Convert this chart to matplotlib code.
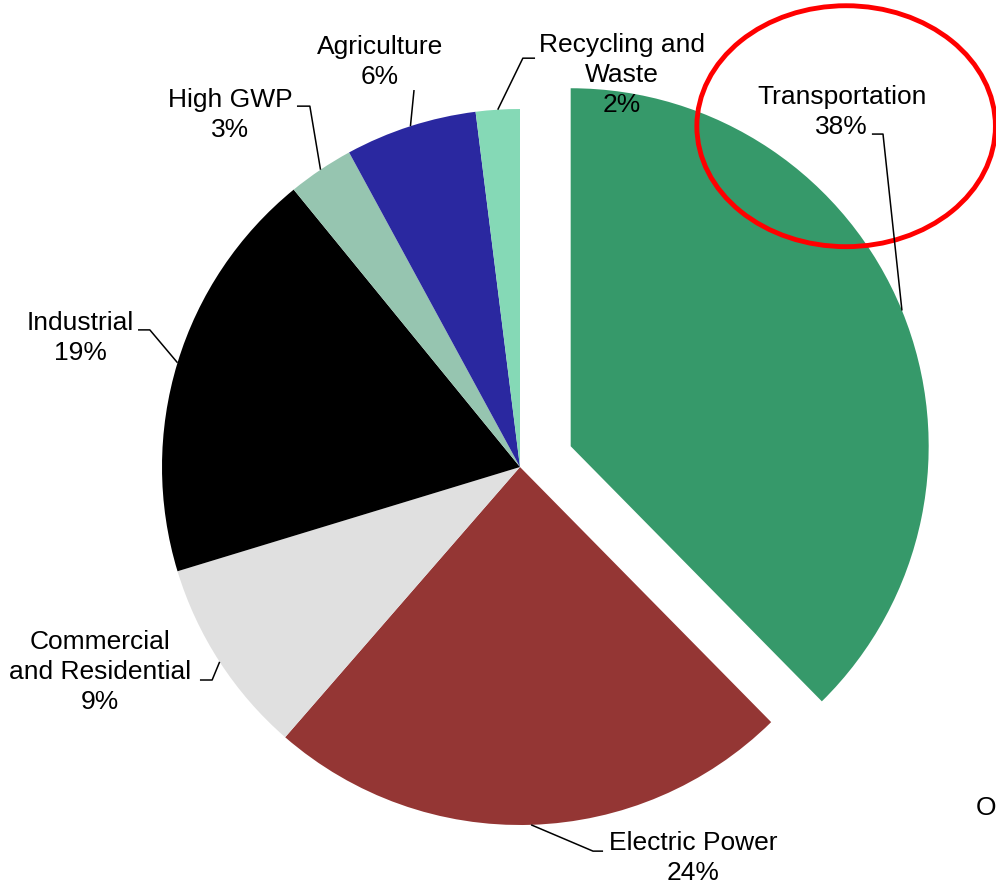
#!/usr/bin/env python3
# -*- coding: utf-8 -*-
"""
Greenhouse gas emissions by economic sector, drawn as a pie chart
with the transportation slice pulled out and circled.
"""

import numpy as np
import matplotlib.pyplot as plt
from matplotlib.patches import Ellipse

plt.rcParams["font.family"] = ["Liberation Sans", "DejaVu Sans"]

# Sector shares (percent), clockwise from 12 o'clock
sectors = ["Transportation", "Electric Power", "Commercial\nand Residential",
           "Industrial", "High GWP", "Agriculture", "Recycling and\nWaste"]
shares = [38, 24, 9, 19, 3, 6, 2]
colors = ["#36996A", "#943634", "#E0E0E0", "#000000",
          "#96C5B0", "#2A28A0", "#85D9B6"]
explode = [0.153, 0, 0, 0, 0, 0, 0]

# Label placement (data units, pie radius = 1) and leader elbows
label_pos = [(0.899, 0.994), (0.483, -1.089), (-1.173, -0.570), (-1.229, 0.363),
             (-0.810, 0.986), (-0.391, 1.134), (0.285, 1.098)]
elbows = [[(0.983, 0.930), (1.014, 0.930)],
          [(0.232, -1.073), (0.204, -1.073)],
          [(-0.894, -0.595), (-0.860, -0.595)],
          [(-1.067, 0.383), (-1.034, 0.383)],
          [(-0.623, 1.008), (-0.587, 1.008)],
          [(-0.296, 1.053)],
          [(0.042, 1.142), (0.008, 1.142)]]


def main():
    fig = plt.figure(figsize=(9.96, 8.87), dpi=100)
    ax = fig.add_axes([0, 0, 1, 1])

    wedges, _ = ax.pie(shares, colors=colors, explode=explode, startangle=90,
                       counterclock=False, radius=1.0,
                       wedgeprops=dict(linewidth=0))

    for w, name, val, (tx, ty), elbow in zip(wedges, sectors, shares, label_pos, elbows):
        ax.text(tx, ty, f"{name}\n{val}%", ha="center", va="center",
                fontsize=19, linespacing=1.33)
        # leader line ends on the wedge rim at its mid angle
        mid = np.deg2rad((w.theta1 + w.theta2) / 2.0)
        cx, cy = w.center
        ex, ey = cx + w.r * np.cos(mid), cy + w.r * np.sin(mid)
        pts = elbow + [(ex, ey)]
        ax.plot([p[0] for p in pts], [p[1] for p in pts], color="black", lw=1.1,
                solid_capstyle="butt")

    # highlight around the transportation label
    ax.add_patch(Ellipse((0.911, 0.952), 0.834, 0.673, fill=False,
                         edgecolor="#FF0000", lw=3.5))

    ax.text(1.274, -0.950, "O", ha="left", va="center", fontsize=19)

    ax.set_xlim(-1.4525, 1.3296)
    ax.set_ylim(-1.1704, 1.3073)
    ax.set_aspect("equal")
    ax.axis("off")

    fig.savefig("out.png", dpi=100)
    plt.close(fig)


if __name__ == "__main__":
    main()
